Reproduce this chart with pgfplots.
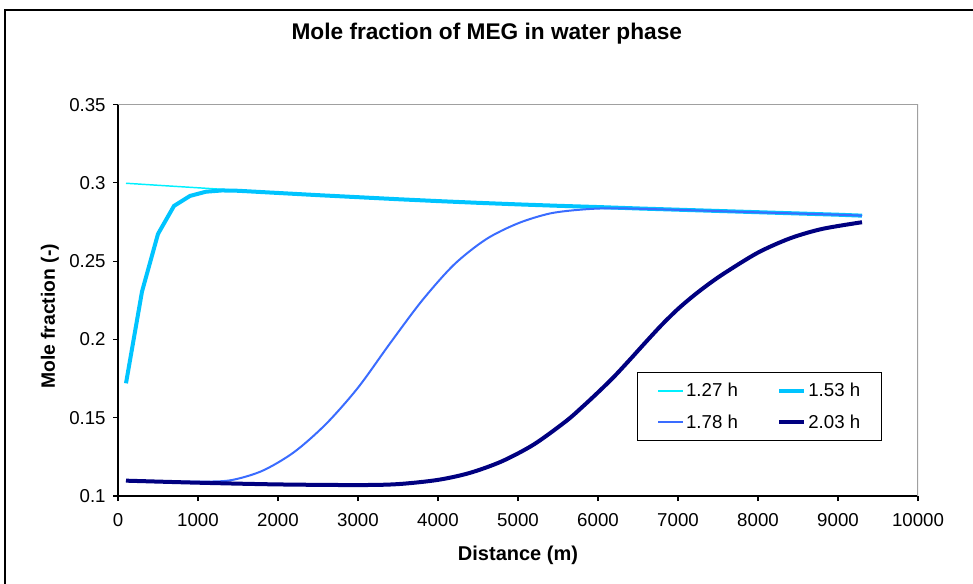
\documentclass[border=0pt]{standalone}
\usepackage{pgfplots}
\pgfplotsset{compat=1.18}
\usepackage{fontspec}
\setmainfont{Liberation Sans}

\definecolor{c127}{HTML}{00F0FF}
\definecolor{c153}{HTML}{00C4FF}
\definecolor{c178}{HTML}{3A6CFF}
\definecolor{c203}{HTML}{000080}
\definecolor{boxgray}{HTML}{A0A0A0}

\begin{document}
\begin{tikzpicture}
  % page = 973x583 px at 0.75pt per px, origin at the lower left of the axis
  \useasboundingbox (-88.5pt,-65.25pt) rectangle (641.25pt,372pt);
  \draw[line width=1.5pt] (-84.75pt,-70pt) -- (-84.75pt,364.5pt) -- (650pt,364.5pt);
  \begin{axis}[
      at={(0pt,0pt)},
      anchor=south west,
      scale only axis,
      width=600pt,
      height=293.5pt,
      xmin=0, xmax=10000,
      ymin=0.1, ymax=0.35,
      xtick={0,1000,...,10000},
      ytick={0.1,0.15,0.2,0.25,0.3,0.35},
      scaled x ticks=false,
      scaled y ticks=false,
      axis x line*=bottom,
      axis y line*=left,
      axis line style={black, line width=0.8pt, -},
      tick align=outside,
      major tick length=3.75pt,
      tick style={black, line width=0.8pt},
      /pgf/number format/assume math mode=true,
      /pgf/number format/set thousands separator={},
      yticklabel style={/pgf/number format/fixed, /pgf/number format/precision=2, xshift=-2pt},
      xticklabel style={yshift=-6pt},
      ticklabel style={font=\fontsize{14}{16}\selectfont},
      title={Mole fraction of MEG in water phase},
      title style={font=\bfseries\fontsize{17}{20}\selectfont, at={(rel axis cs:0.461,1.160)}, anchor=center},
      xlabel={Distance (m)},
      xlabel style={font=\bfseries\fontsize{15}{18}\selectfont, at={(rel axis cs:0.5,-0.151)}, anchor=center},
      ylabel={Mole fraction (-)},
      ylabel style={font=\bfseries\fontsize{14.5}{17}\selectfont, at={(rel axis cs:-0.085,0.459)}, anchor=center, rotate=0},
      legend columns=2,
      legend style={at={(0.649,0.317)}, anchor=north west, draw=black, line width=0.8pt,
        font=\fontsize{14}{16}\selectfont, inner xsep=14.5pt, inner ysep=6pt,
        row sep=8pt,
        nodes={inner xsep=1.5pt},
        /tikz/every even column/.append style={column sep=28pt}},
      legend image code/.code={\draw[#1] (0pt,0pt) -- (18.75pt,0pt);},
      legend cell align=left,
  ]
    \addplot[c127, line width=1.1pt] coordinates {
      (100,0.2998) (500,0.2985) (1000,0.2969) (1500,0.2953) (2000,0.2938)
      (2500,0.2924) (3000,0.2910) (3500,0.2897) (4000,0.2885) (4500,0.2874)
      (5000,0.2864) (5500,0.2855) (6000,0.2847) (6500,0.2838) (7000,0.2830)
      (7500,0.2822) (8000,0.2814) (8500,0.2806) (9000,0.2798) (9300,0.2792)
    };
    \addlegendentry{1.27 h}
    \addplot[c153, line width=3pt, line join=round] coordinates {
      (100,0.1720) (300,0.2306) (500,0.2674) (700,0.2853) (900,0.2917)
      (1100,0.2944) (1300,0.2952) (1500,0.2950) (2000,0.2936) (2500,0.2922)
      (3000,0.2909) (3500,0.2896) (4000,0.2884) (4500,0.2873) (5000,0.2863)
      (5500,0.2854) (6000,0.2846) (6500,0.2837) (7000,0.2829) (7500,0.2821)
      (8000,0.2813) (8500,0.2805) (9000,0.2797) (9300,0.2791)
    };
    \addlegendentry{1.53 h}
    \addplot[c178, line width=1.5pt, smooth] coordinates {
      (100,0.1098) (600,0.1094) (1000,0.1092) (1400,0.1100) (1800,0.1160)
      (2200,0.1280) (2600,0.1460) (3000,0.1692) (3400,0.1975) (3800,0.2248)
      (4200,0.2478) (4600,0.2640) (5000,0.2742) (5400,0.2805) (5800,0.2830)
      (6200,0.2838) (7000,0.2828) (8000,0.2812) (9000,0.2797) (9300,0.2791)
    };
    \addlegendentry{1.78 h}
    \addplot[c203, line width=3pt, smooth] coordinates {
      (100,0.1098) (1000,0.1085) (2000,0.1074) (3000,0.1070) (3500,0.1076)
      (4000,0.1103) (4400,0.1148) (4800,0.1222) (5200,0.1330) (5600,0.1478)
      (5800,0.1567) (6000,0.1662) (6200,0.1762) (6400,0.1872) (6600,0.1985)
      (6800,0.2095) (7000,0.2195) (7200,0.2282) (7400,0.2360) (7600,0.2430)
      (8000,0.2555) (8400,0.2646) (8800,0.2706) (9300,0.2749)
    };
    \addlegendentry{2.03 h}
    \draw[boxgray, line width=0.8pt] (rel axis cs:0,1) -- (rel axis cs:1,1) -- (rel axis cs:1,0);
  \end{axis}
\end{tikzpicture}
\end{document}
